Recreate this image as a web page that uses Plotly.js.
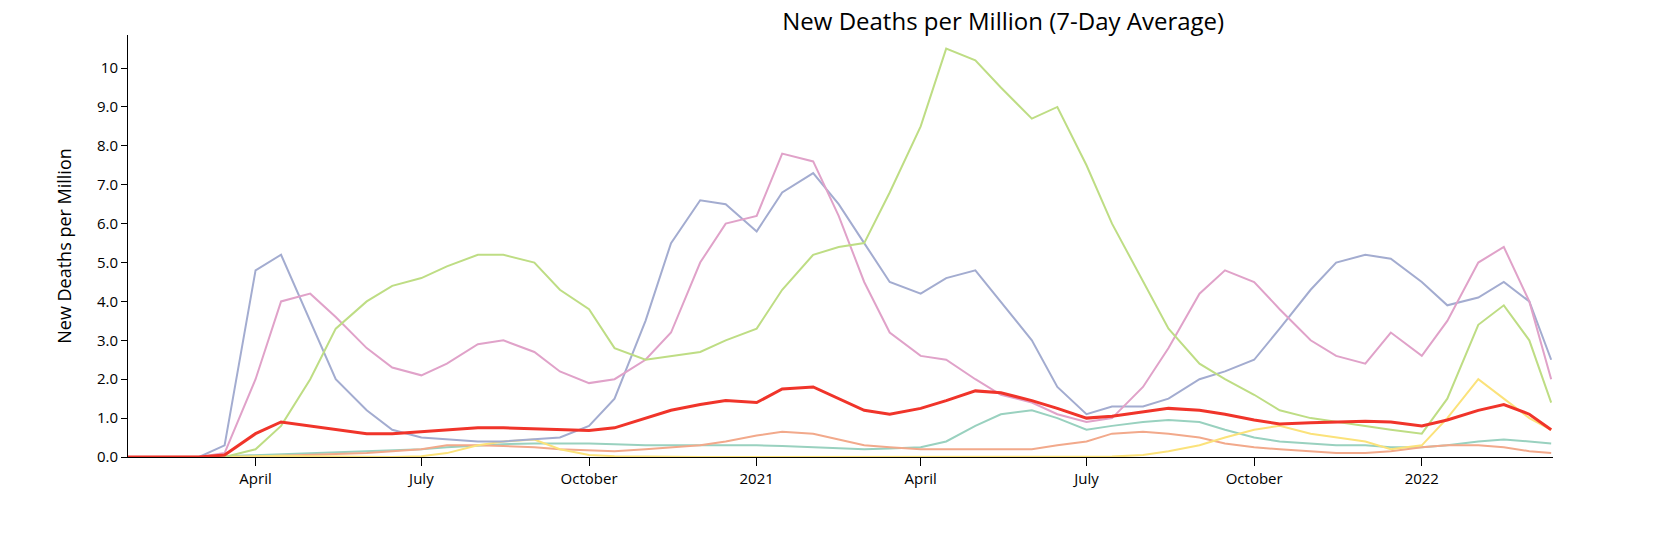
<!DOCTYPE html>
<html>
<head>
<meta charset="utf-8">
<script src="https://cdn.plot.ly/plotly-3.0.1.min.js"></script>
<style>body{margin:0}</style>
</head>
<body>
<div id="chart" style="width:1672px;height:542px;"></div>
<script>
var dates = ["2020-01-22","2020-02-15","2020-03-01","2020-03-15","2020-04-01","2020-04-15","2020-05-01","2020-05-15","2020-06-01","2020-06-15",
  "2020-07-01","2020-07-15","2020-08-01","2020-08-15","2020-09-01","2020-09-15","2020-10-01","2020-10-15","2020-11-01","2020-11-15",
  "2020-12-01","2020-12-15","2021-01-01","2021-01-15","2021-02-01","2021-02-15","2021-03-01","2021-03-15","2021-04-01","2021-04-15",
  "2021-05-01","2021-05-15","2021-06-01","2021-06-15","2021-07-01","2021-07-15","2021-08-01","2021-08-15","2021-09-01","2021-09-15",
  "2021-10-01","2021-10-15","2021-11-01","2021-11-15","2021-12-01","2021-12-15","2022-01-01","2022-01-15","2022-02-01","2022-02-15",
  "2022-03-01","2022-03-13"];

var europe = [0,0,0,0.3,4.8,5.2,3.5,2.0,1.2,0.7, 0.5,0.45,0.4,0.4,0.45,0.5,0.8,1.5,3.5,5.5, 6.6,6.5,5.8,6.8,7.3,6.5,5.5,4.5,4.2,4.6,
  4.8,4.0,3.0,1.8,1.1,1.3,1.3,1.5,2.0,2.2, 2.5,3.3,4.3,5.0,5.2,5.1,4.5,3.9,4.1,4.5, 4.0,2.5];
var northAmerica = [0,0,0,0.1,2.0,4.0,4.2,3.6,2.8,2.3, 2.1,2.4,2.9,3.0,2.7,2.2,1.9,2.0,2.5,3.2, 5.0,6.0,6.2,7.8,7.6,6.2,4.5,3.2,2.6,2.5,
  2.0,1.6,1.4,1.1,0.9,1.0,1.8,2.8,4.2,4.8, 4.5,3.8,3.0,2.6,2.4,3.2,2.6,3.5,5.0,5.4, 4.0,2.0];
var southAmerica = [0,0,0,0,0.2,0.8,2.0,3.3,4.0,4.4, 4.6,4.9,5.2,5.2,5.0,4.3,3.8,2.8,2.5,2.6, 2.7,3.0,3.3,4.3,5.2,5.4,5.5,6.8,8.5,10.5,
  10.2,9.5,8.7,9.0,7.5,6.0,4.5,3.3,2.4,2.0, 1.6,1.2,1.0,0.9,0.8,0.7,0.6,1.5,3.4,3.9, 3.0,1.4];
var asia = [0,0,0,0.02,0.05,0.08,0.1,0.12,0.15,0.18, 0.2,0.25,0.3,0.33,0.35,0.35,0.35,0.33,0.3,0.3, 0.3,0.3,0.3,0.28,0.25,0.22,0.2,0.22,0.25,0.4,
  0.8,1.1,1.2,1.0,0.7,0.8,0.9,0.95,0.9,0.7, 0.5,0.4,0.35,0.3,0.3,0.25,0.25,0.3,0.4,0.45, 0.4,0.35];
var africa = [0,0,0,0,0.01,0.03,0.05,0.07,0.1,0.15, 0.2,0.3,0.3,0.28,0.25,0.2,0.18,0.15,0.2,0.25, 0.3,0.4,0.55,0.65,0.6,0.45,0.3,0.25,0.2,0.2,
  0.2,0.2,0.2,0.3,0.4,0.6,0.65,0.6,0.5,0.35, 0.25,0.2,0.15,0.1,0.1,0.15,0.25,0.3,0.3,0.25, 0.15,0.1];
var oceania = [0,0,0,0,0.02,0.03,0.02,0.01,0,0, 0.02,0.1,0.3,0.4,0.45,0.2,0.05,0.02,0.01,0, 0,0,0,0,0,0,0,0,0,0,
  0,0,0,0,0,0.01,0.05,0.15,0.3,0.5, 0.7,0.8,0.6,0.5,0.4,0.2,0.3,1.0,2.0,1.5, 1.0,0.7];
var world = [0,0,0,0.05,0.6,0.9,0.8,0.7,0.6,0.6, 0.65,0.7,0.75,0.75,0.72,0.7,0.68,0.75,1.0,1.2, 1.35,1.45,1.4,1.75,1.8,1.5,1.2,1.1,1.25,1.45,
  1.7,1.65,1.45,1.25,1.0,1.05,1.15,1.25,1.2,1.1, 0.95,0.85,0.88,0.9,0.92,0.9,0.8,0.95,1.2,1.35, 1.1,0.7];

var tickVals = [0,1,2,3,4,5,6,7,8,9,10];
var tickText = ["0.0","1.0","2.0","3.0","4.0","5.0","6.0","7.0","8.0","9.0","10"];

function line(y, color, w) {
  return {x: dates, y: y, type: 'scatter', mode: 'lines', line: {color: color, width: w}, hoverinfo: 'skip'};
}

var traces = [
  line(asia, '#99d1bf', 2),
  line(africa, '#f2a98b', 2),
  line(oceania, '#fbe27a', 2),
  line(europe, '#a3acd0', 2),
  line(northAmerica, '#e0a2c9', 2),
  line(southAmerica, '#bedd84', 2),
  line(world, '#f0342a', 3)
];

Plotly.newPlot('chart', traces, {
  width: 1672, height: 542,
  margin: {l: 128, r: 119, t: 35, b: 85},
  showlegend: false,
  paper_bgcolor: 'white', plot_bgcolor: 'white',
  font: {family: 'Open Sans', size: 14, color: '#000'},
  title: {text: 'New Deaths per Million (7-Day Average)', x: 0.6, xanchor: 'center', y: 0.96, yanchor: 'middle', font: {size: 24}},
  xaxis: {
    range: ['2020-01-22', '2022-03-14'], showgrid: false, zeroline: false,
    showline: true, linecolor: '#000', ticks: 'outside', ticklen: 8, tickcolor: '#000',
    tickvals: ['2020-04-01','2020-07-01','2020-10-01','2021-01-01','2021-04-01','2021-07-01','2021-10-01','2022-01-01'],
    ticktext: ['April','July','October','2021','April','July','October','2022'],
    tickfont: {size: 15}
  },
  yaxis: {
    range: [0, 10.85], showgrid: false, zeroline: false,
    showline: true, linecolor: '#000', ticks: 'outside', ticklen: 6, tickcolor: '#000',
    tickvals: tickVals, ticktext: tickText, tickfont: {size: 15},
    title: {text: 'New Deaths per Million', font: {size: 18}, standoff: 20}
  }
}, {displayModeBar: false});
</script>
</body>
</html>
